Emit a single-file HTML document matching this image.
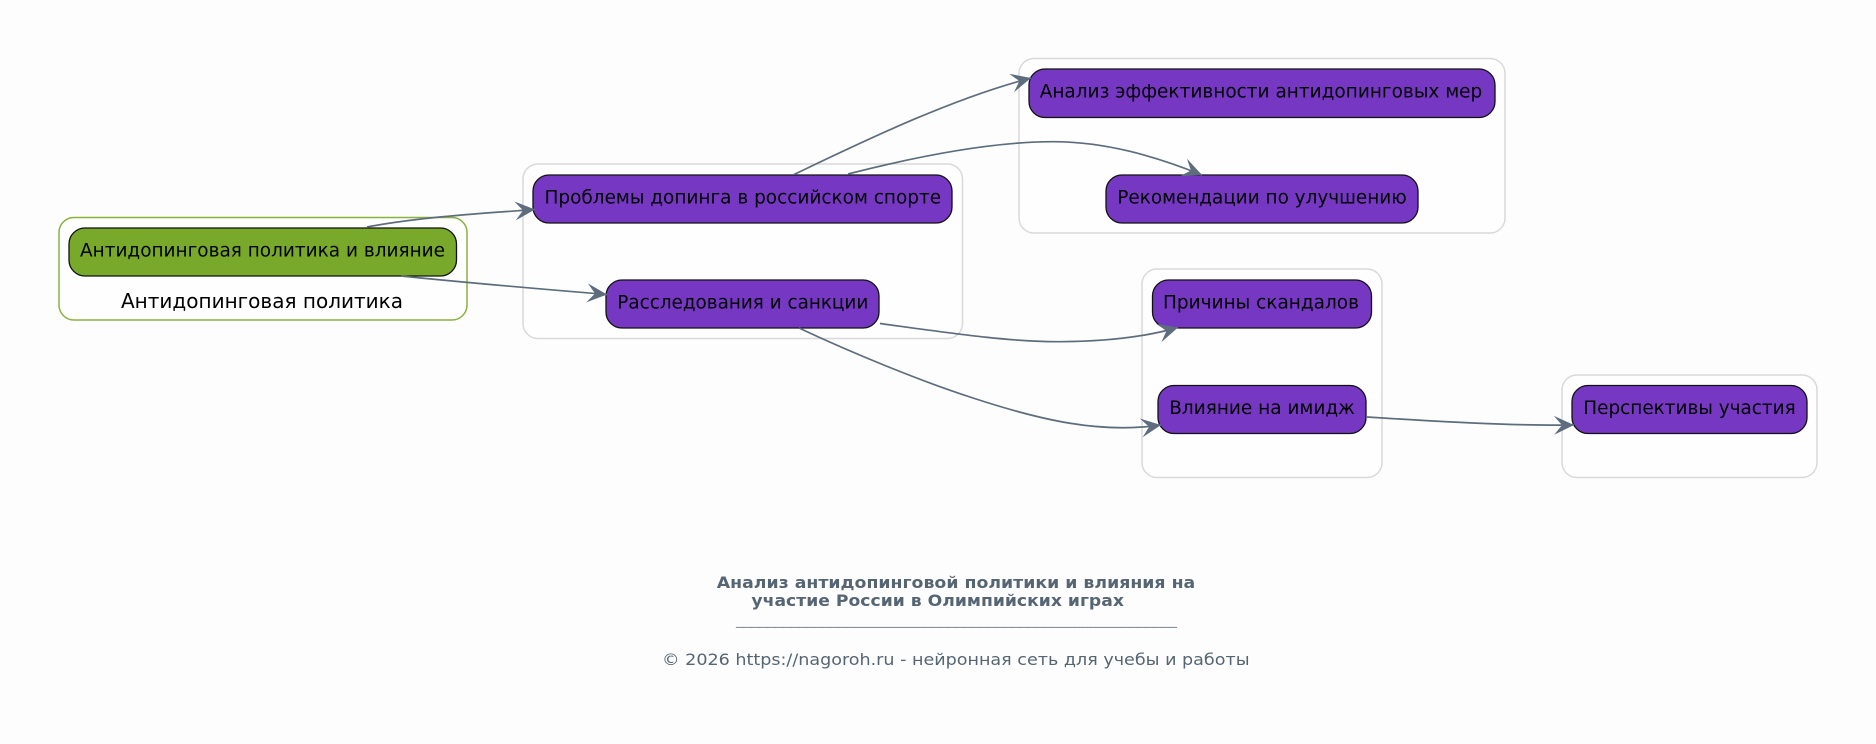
<!DOCTYPE html>
<html lang="ru"><head><meta charset="utf-8"><title>Диаграмма</title>
<style>
html,body{margin:0;padding:0;background:#fdfdfd}
svg{display:block}
text{font-family:"DejaVu Sans","Liberation Sans",sans-serif}
.n{fill:#7638c3;stroke:#111;stroke-width:1.3}
.c{fill:#fefefe;stroke:#d9d9d9;stroke-width:1.5}
.t{font-size:18.8px;fill:#000;text-anchor:middle}
.e{fill:none;stroke:#5d6d7e;stroke-width:1.7;marker-end:url(#a)}
</style></head><body>
<svg width="1876" height="744" viewBox="0 0 1876 744" xmlns="http://www.w3.org/2000/svg">
<defs><marker id="a" markerUnits="userSpaceOnUse" markerWidth="24" markerHeight="22" refX="21" refY="11" orient="auto"><path d="M1,1.5 L21,11 L1,20.5 L9,11 Z" fill="#5d6d7e"/></marker></defs>
<rect width="1876" height="744" fill="#fdfdfd"/>
<rect class="c" x="59" y="217.5" width="408" height="102.5" rx="15" style="stroke:#88b23f"/>
<rect class="c" x="523" y="164" width="439.5" height="174.5" rx="15"/>
<rect class="c" x="1019" y="58.5" width="486" height="174.5" rx="15"/>
<rect class="c" x="1142" y="269" width="240" height="208.5" rx="15"/>
<rect class="c" x="1562" y="375" width="255" height="102.5" rx="15"/>

<rect class="n" x="69" y="228" width="387.5" height="48" rx="16" style="fill:#78a92a"/>
<rect class="n" x="533" y="175" width="419" height="48" rx="16"/>
<rect class="n" x="606" y="280" width="273" height="48" rx="16"/>
<rect class="n" x="1029" y="69" width="466" height="48.5" rx="16"/>
<rect class="n" x="1106" y="175" width="312" height="48" rx="16"/>
<rect class="n" x="1152.5" y="280" width="219" height="48" rx="16"/>
<rect class="n" x="1158" y="385.5" width="208" height="48" rx="16"/>
<rect class="n" x="1572" y="385.5" width="235" height="48" rx="16"/>

<text class="t" x="262.5" y="256.5" textLength="365" lengthAdjust="spacingAndGlyphs">Антидопинговая политика и влияние</text>
<text x="262" y="308" font-size="20.4" text-anchor="middle" textLength="282" lengthAdjust="spacingAndGlyphs">Антидопинговая политика</text>
<text class="t" x="742.8" y="203.5" textLength="396.6" lengthAdjust="spacingAndGlyphs">Проблемы допинга в российском спорте</text>
<text class="t" x="742.8" y="308.5" textLength="251" lengthAdjust="spacingAndGlyphs">Расследования и санкции</text>
<text class="t" x="1261" y="97.5" textLength="442.6" lengthAdjust="spacingAndGlyphs">Анализ эффективности антидопинговых мер</text>
<text class="t" x="1262" y="203.5" textLength="289.4" lengthAdjust="spacingAndGlyphs">Рекомендации по улучшению</text>
<text class="t" x="1261" y="308.5" textLength="196" lengthAdjust="spacingAndGlyphs">Причины скандалов</text>
<text class="t" x="1262" y="414" textLength="185.5" lengthAdjust="spacingAndGlyphs">Влияние на имидж</text>
<text class="t" x="1689.5" y="414" textLength="212.4" lengthAdjust="spacingAndGlyphs">Перспективы участия</text>

<path class="e" d="M367,227 C420,217 480,213.5 535,209.5"/>
<path class="e" d="M401,276 C470,283 540,289 607,294.5"/>
<path class="e" d="M794,174.5 C860,143 950,99 1031,78"/>
<path class="e" d="M848,174 C930,153 1000,141.7 1053,141.7 C1105,141.7 1155,156 1202,175"/>
<path class="e" d="M880,323.5 C950,333 1010,342 1060,341.7 C1105,341.5 1145,337 1178,327.5"/>
<path class="e" d="M799,328 C850,352 920,381 973,398 C1040,420 1100,434 1161,425"/>
<path class="e" d="M1367,417 C1430,421 1510,426 1574,425"/>

<text x="956" y="588" font-size="16" font-weight="bold" fill="#566573" text-anchor="middle" textLength="478.5" lengthAdjust="spacingAndGlyphs">Анализ антидопинговой политики и влияния на</text>
<text x="937.7" y="606" font-size="16" font-weight="bold" fill="#566573" text-anchor="middle" textLength="372.5" lengthAdjust="spacingAndGlyphs">участие России в Олимпийских играх</text>
<text x="956.5" y="624" font-size="16" fill="#566573" fill-opacity=".7" text-anchor="middle" textLength="441" lengthAdjust="spacingAndGlyphs">________________________________________________________</text>
<text x="955.8" y="665" font-size="16.2" fill="#566573" text-anchor="middle" textLength="587.5" lengthAdjust="spacingAndGlyphs">© 2026 https://nagoroh.ru - нейронная сеть для учебы и работы</text>
</svg>
</body></html>
